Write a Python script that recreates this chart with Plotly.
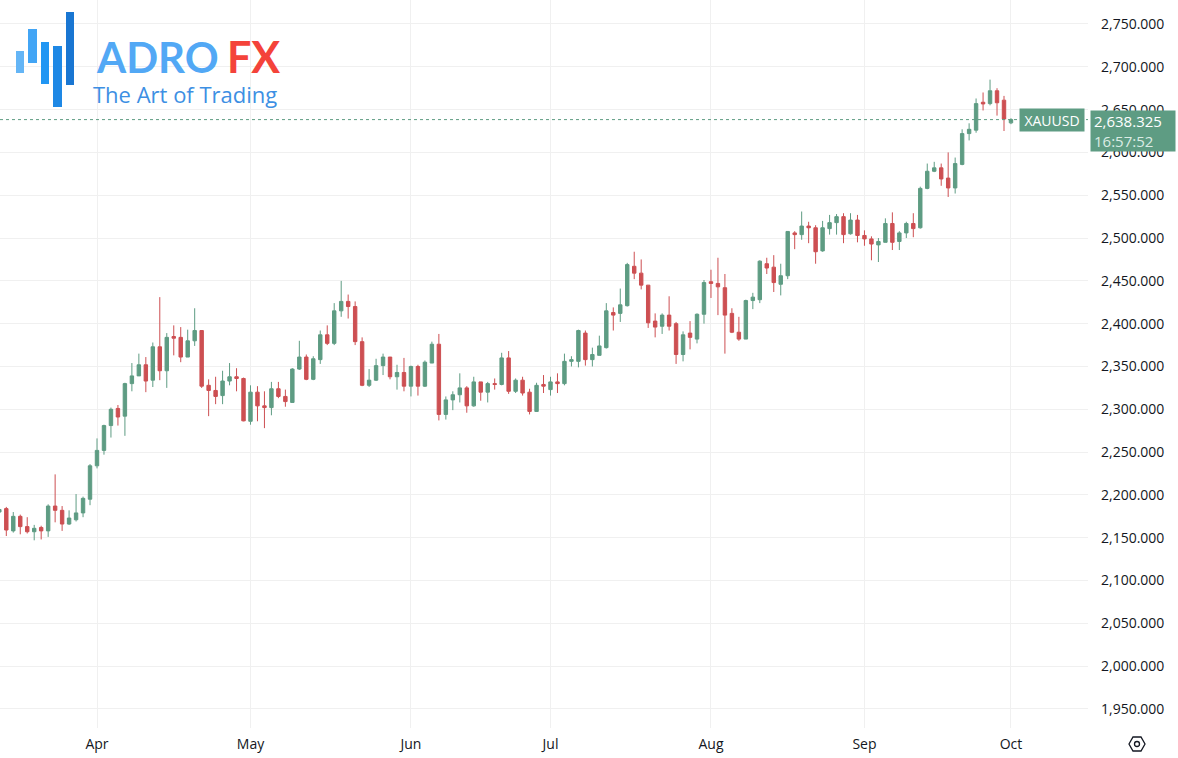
import pandas as pd
import plotly.graph_objects as go

# XAUUSD daily candles, 11 Mar 2024 - 1 Oct 2024 (Good Friday closed)
dates = [d.strftime('%Y-%m-%d') for d in pd.bdate_range('2024-03-11', '2024-10-01')
         if d.strftime('%Y-%m-%d') != '2024-03-29']

opens = [
    2180, 2184, 2158, 2175, 2163, 2157, 2162, 2158, 2187, 2182, 2166, 2171, 2179, 2195,   # Mar
    2234, 2252, 2281, 2301, 2292, 2330, 2339, 2352, 2334, 2373, 2345, 2385, 2384, 2361,   # Apr
    2380, 2392, 2328, 2322, 2316, 2333, 2338, 2336,
    2286, 2320, 2304, 2302, 2324, 2315, 2308, 2347, 2361, 2335, 2358, 2387, 2377, 2415,   # May
    2426, 2420, 2379, 2328, 2334, 2351, 2361, 2338, 2343,
    2327, 2350, 2327, 2354, 2376, 2294, 2311, 2317, 2325, 2304, 2332, 2320, 2330, 2329,   # Jun
    2360, 2321, 2334, 2320, 2297.5, 2329,
    2323, 2332, 2330, 2356, 2356, 2389, 2358, 2363, 2372, 2413, 2412, 2421, 2467, 2459,   # Jul
    2445, 2403, 2397, 2410, 2400, 2364, 2389, 2382, 2411,
    2449, 2447, 2442, 2412, 2390, 2382, 2427, 2428, 2470, 2466, 2446, 2456, 2506, 2504,   # Aug
    2514, 2512, 2485, 2511, 2518, 2525, 2505, 2521,
    2503, 2499, 2492, 2495, 2517, 2496, 2506, 2517, 2512, 2558, 2578, 2582, 2570, 2558.5, # Sep
    2586, 2622, 2626, 2658.6, 2657, 2672, 2661,
    2634.5,                                                                               # Oct
]
highs = [
    2190, 2186, 2180, 2177, 2174, 2165, 2164, 2189, 2224, 2187, 2182, 2201, 2198, 2236,
    2266, 2282, 2302, 2305, 2331, 2354, 2365, 2361, 2378, 2431, 2389, 2398, 2396, 2393,
    2418, 2392, 2335, 2338, 2345, 2354, 2348, 2337,
    2328, 2327, 2321, 2332, 2332, 2323, 2348, 2380, 2364, 2362, 2392, 2398, 2424, 2450,
    2434, 2426, 2384, 2347, 2359, 2365, 2361, 2352, 2360,
    2351, 2352, 2357, 2379, 2388, 2315, 2321, 2342, 2327, 2338, 2332, 2332, 2336, 2366,
    2368, 2336, 2338, 2324, 2331, 2340,
    2338, 2342, 2365, 2362, 2393, 2392, 2372, 2386, 2424, 2419, 2441, 2471, 2484, 2475,
    2445, 2412, 2412, 2432, 2402, 2391, 2403, 2412, 2451,
    2463, 2477, 2458, 2418, 2408, 2428, 2436, 2474, 2477, 2480, 2470, 2508, 2508, 2531,
    2519, 2515, 2520, 2527, 2528, 2529, 2529, 2527,
    2509, 2502, 2500, 2523, 2530, 2508, 2519, 2529, 2560, 2587, 2589, 2587, 2600, 2594,
    2627, 2634, 2663, 2670, 2685, 2675, 2666,
    2640,
]
lows = [
    2176, 2152, 2156, 2154, 2155, 2147, 2148, 2151, 2168, 2158, 2165, 2169, 2174, 2188,
    2231, 2247, 2267, 2281, 2269, 2321, 2339, 2320, 2326, 2334, 2325, 2363, 2355, 2361,
    2374, 2325, 2292, 2306, 2306, 2328, 2321, 2286,
    2282, 2286, 2278, 2293, 2313, 2303, 2308, 2346, 2334, 2334, 2353, 2375, 2375, 2408,
    2406, 2375, 2327, 2326, 2333, 2340, 2335, 2323, 2321,
    2315, 2316, 2326, 2354, 2287, 2288, 2299, 2308, 2296, 2303, 2310, 2308, 2323, 2328,
    2318, 2319, 2316, 2294, 2297, 2319,
    2316, 2319, 2328, 2350, 2349, 2351, 2350, 2363, 2371, 2392, 2402, 2420, 2452, 2440,
    2395, 2384, 2388, 2392, 2353, 2356, 2370, 2377, 2400,
    2430, 2410, 2365, 2389, 2380, 2382, 2417, 2424, 2458, 2437, 2433, 2452, 2487, 2498,
    2494, 2470, 2484, 2504, 2504, 2494, 2504, 2495,
    2491, 2474, 2472, 2495, 2486, 2486, 2500, 2501, 2511, 2557, 2577, 2561, 2548, 2552,
    2585, 2614, 2623, 2649, 2655, 2643, 2625,
    2633,
]
closes = [
    2183, 2159, 2175, 2163, 2157, 2161, 2158, 2187, 2182, 2166, 2173, 2179, 2196, 2234,
    2252, 2281, 2300, 2291, 2330, 2339, 2352, 2333, 2373, 2345, 2384, 2383, 2361, 2380,
    2392, 2327, 2322, 2315, 2333, 2338, 2336, 2286.5,
    2320, 2304, 2302, 2324, 2315, 2309, 2347, 2361, 2335, 2359, 2387, 2377, 2415, 2426,
    2420, 2379, 2328, 2334, 2351, 2361, 2338, 2343, 2327,
    2350, 2327, 2355, 2376, 2294, 2311, 2317, 2325, 2304, 2332, 2320, 2330, 2329, 2360,
    2321, 2334, 2319, 2297.5, 2328, 2327,
    2332, 2330, 2356, 2358, 2392, 2358, 2364, 2374, 2415, 2410, 2422, 2469, 2459, 2445,
    2401, 2396, 2410, 2397, 2364, 2387, 2384, 2411, 2448,
    2447, 2443, 2410, 2390, 2382, 2427, 2431, 2473, 2465, 2448, 2456, 2507.7, 2504, 2514,
    2512, 2484, 2512, 2518, 2525, 2504, 2521, 2503,
    2499, 2493, 2496, 2517, 2495, 2506, 2517, 2511, 2558, 2578, 2582, 2569, 2558.5, 2587,
    2622, 2627, 2657, 2656.6, 2672, 2658, 2639,
    2638.325,
]

month_ticks = ['2024-04-01', '2024-05-01', '2024-06-03', '2024-07-01',
               '2024-08-01', '2024-09-02', '2024-10-01']
month_names = ['Apr', 'May', 'Jun', 'Jul', 'Aug', 'Sep', 'Oct']
price_ticks = list(range(1950, 2751, 50))

symbol = 'XAUUSD'
last_price = closes[-1]
countdown = '16:57:52'

up = '#5e9c83'
down = '#cd4f52'
font = 'Open Sans'

fig = go.Figure(go.Candlestick(
    x=dates, open=opens, high=highs, low=lows, close=closes,
    increasing=dict(line=dict(color=up, width=1), fillcolor=up),
    decreasing=dict(line=dict(color=down, width=1), fillcolor=down),
    whiskerwidth=0,
    hoverinfo='skip',
    showlegend=False,
))

# last price dotted line
fig.add_shape(type='line', xref='paper', x0=0, x1=1, yref='y',
              y0=last_price, y1=last_price,
              line=dict(color=up, width=1, dash='dot'))

fig.add_annotation(xref='paper', x=1052 / 1088, xanchor='center', yref='y', y=last_price,
                   text=symbol, showarrow=False, bgcolor=up,
                   font=dict(family=font, size=14, color='white'),
                   width=58, height=16, borderpad=3)

fig.add_annotation(xref='paper', x=1133 / 1088, xanchor='center',
                   yref='y', y=last_price, yanchor='top', yshift=10,
                   text=f'{last_price:,.3f}<br><span style="color:#dcece5">{countdown}</span>',
                   showarrow=False, bgcolor=up, align='left',
                   font=dict(family=font, size=15, color='white'),
                   width=78, height=34, borderpad=3)

# AdroFX logo
bars = [(16, 24, 51, 73, '#64b5f6'), (28, 37, 29, 63, '#42a5f5'),
        (41, 49, 42, 84, '#2196f3'), (53, 62, 46, 107, '#1e88e5'),
        (66, 74, 12, 85, '#1976d2')]
for x0, x1, y0, y1, c in bars:
    fig.add_shape(type='rect', xref='paper', yref='paper', xsizemode='pixel', ysizemode='pixel',
                  xanchor=0, yanchor=1, x0=x0, x1=x1, y0=-y0, y1=-y1,
                  fillcolor=c, line=dict(width=0))

fig.add_annotation(xref='paper', yref='paper', x=94 / 1088, y=1 - 57 / 728,
                   xanchor='left', yanchor='middle', showarrow=False,
                   text='<b><span style="color:#52a8f5">ADRO</span></b>',
                   font=dict(family='Lato', size=42))
fig.add_annotation(xref='paper', yref='paper', x=225 / 1088, y=1 - 57 / 728,
                   xanchor='left', yanchor='middle', showarrow=False,
                   text='<b><span style="color:#f4433a">FX</span></b>',
                   font=dict(family='Lato', size=43))
fig.add_annotation(xref='paper', yref='paper', x=91 / 1088, y=1 - 94 / 728,
                   xanchor='left', yanchor='middle', showarrow=False,
                   text='The Art of Trading',
                   font=dict(family='Open Sans', size=22, color='#3d8fe3'))

# settings icon
fig.add_shape(type='path', xref='paper', yref='paper', xsizemode='pixel', ysizemode='pixel',
              xanchor=1137 / 1088, yanchor=-16 / 728,
              path='M -8 0 L -4 7 L 4 7 L 8 0 L 4 -7 L -4 -7 Z',
              line=dict(color='#131722', width=1.3))
fig.add_shape(type='circle', xref='paper', yref='paper', xsizemode='pixel', ysizemode='pixel',
              xanchor=1137 / 1088, yanchor=-16 / 728,
              x0=-2.5, x1=2.5, y0=-2.5, y1=2.5,
              line=dict(color='#131722', width=1.3))

fig.update_layout(
    width=1178, height=758,
    margin=dict(l=0, r=90, t=0, b=30),
    paper_bgcolor='white', plot_bgcolor='white',
    font=dict(family=font, size=14, color='#131722'),
    showlegend=False,
)

fig.update_xaxes(
    type='category', range=[0.097, 156.04],
    rangeslider_visible=False,
    tickvals=month_ticks, ticktext=month_names,
    showgrid=True, gridcolor='#f0f0f0', gridwidth=1,
    ticks='', ticklabelstandoff=6, showline=False, zeroline=False,
)

fig.update_yaxes(
    side='right', range=[1927.8, 2778.0],
    tickvals=price_ticks, tickformat=',.3f',
    showgrid=True, gridcolor='#f0f0f0', gridwidth=1,
    ticks='', ticklabelstandoff=12, showline=False, zeroline=False,
)

fig.write_html('out.html', config={'displayModeBar': False},
               post_script="document.body.style.margin='0';")
